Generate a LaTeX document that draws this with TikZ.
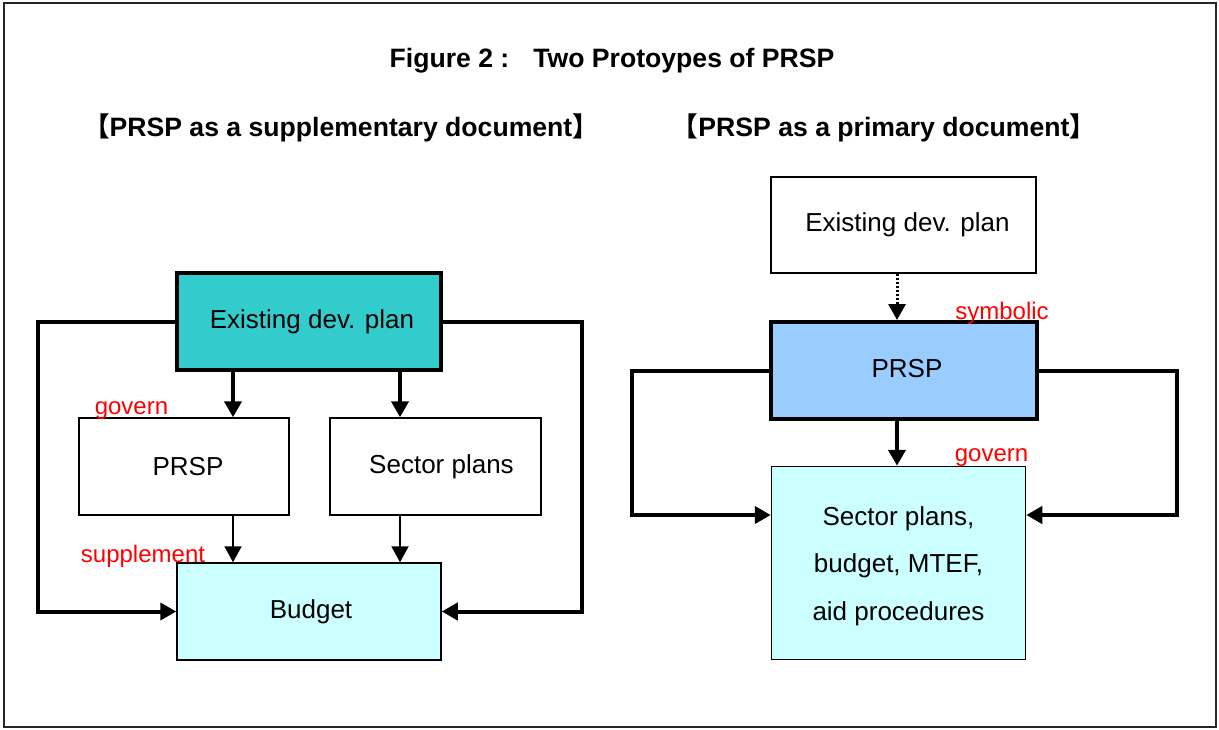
\documentclass[tikz,border=0pt]{standalone}
\usepackage{fontspec}
\setmainfont{Liberation Sans}
\newfontfamily\cjk{Noto Sans CJK SC}
\usetikzlibrary{arrows.meta}
\definecolor{tealfill}{HTML}{33CCCC}
\definecolor{cyanfill}{HTML}{CCFFFF}
\definecolor{bluefill}{HTML}{99CCFF}
\begin{document}
\begin{tikzpicture}[x=0.5pt,y=-0.5pt,
  box/.style={draw, line width=0.75pt, inner sep=0pt, align=center, font=\fontsize{13}{23.75}\selectfont},
  heavybox/.style={box, line width=2pt},
  thinarrow/.style={-{Triangle[length=8pt,width=8.5pt]}, line width=1pt},
  heavyarrow/.style={-{Triangle[length=8pt,width=8.5pt]}, line width=2pt},
  dotarrow/.style={-{Triangle[length=8pt,width=8.5pt]}, line width=1.5pt, dash pattern=on 1pt off 1pt},
  heavyline/.style={line width=2pt},
  lbl/.style={text=red, inner sep=0pt, font=\fontsize{12}{14}\selectfont},
  heading/.style={inner sep=0pt, font=\fontsize{13.3}{15}\selectfont\bfseries}]
\useasboundingbox (0,0) rectangle (1219,729);
\draw[line width=0.75pt, black!85] (4,3) rectangle (1216,727);

% headings
\node[heading] (title) at (612,61) {Figure 2 :\hspace{12pt}Two Protoypes of PRSP};
\node[heading] (subL) at (341,128) {{\cjk 【}PRSP as a supplementary document{\cjk 】}};
\node[heading] (subR) at (884,128) {{\cjk 【}PRSP as a primary document{\cjk 】}};

% left diagram
\node[heavybox, fill=tealfill, minimum width=132pt, minimum height=48.5pt] (exL) at (309,321.5) {\hspace*{3pt}Existing dev. plan};
\node[box, minimum width=105pt, minimum height=48.5pt] (prL) at (184,466.5) {\hspace*{4pt}PRSP};
\node[box, minimum width=105.5pt, minimum height=48.5pt] (seL) at (435.5,466.5) {\hspace*{6pt}Sector plans};
\node[box, fill=cyanfill, minimum width=132pt, minimum height=48.5pt] (buL) at (309,611.5) {\hspace*{2pt}Budget};

\coordinate (xa) at (233,0);
\coordinate (xb) at (400,0);
\coordinate (cL) at (38,0);
\coordinate (cR) at (582,0);

\draw[heavyarrow] (exL.south -| xa) -- (prL.north -| xa);
\draw[heavyarrow] (exL.south -| xb) -- (seL.north -| xb);
\draw[thinarrow] (prL.south -| xa) -- (buL.north -| xa);
\draw[thinarrow] (seL.south -| xb) -- (buL.north -| xb);
\draw[heavyarrow] (exL.west) -- (exL.west -| cL) |- (buL.west);
\draw[heavyarrow] (exL.east) -- (exL.east -| cR) |- (buL.east);

\node[lbl] (gL) at (131.5,411) {govern};
\node[lbl] (sL) at (143,556) {supplement};

% right diagram
\node[box, minimum width=132.5pt, minimum height=48pt] (exR) at (903.5,225) {\raisebox{2pt}{\hspace*{4pt}Existing dev. plan}};
\node[heavybox, fill=bluefill, minimum width=133pt, minimum height=48.5pt] (prR) at (904,370.5) {\raisebox{2pt}{\hspace*{3pt}PRSP}};
\node[box, fill=cyanfill, minimum width=127pt, minimum height=96.5pt] (seR) at (898.5,563) {\raisebox{1.5pt}{\begin{tabular}{@{}c@{}}Sector plans,\\ budget, MTEF,\\ aid procedures\end{tabular}}};

\coordinate (xr) at (897,0);
\coordinate (dL) at (632,0);
\coordinate (dR) at (1177,0);
\coordinate (yR) at (0,515);

\draw[dotarrow] (exR.south -| xr) -- (prR.north -| xr);
\draw[heavyarrow] (prR.south -| xr) -- (seR.north -| xr);
\draw[heavyarrow] (prR.west) -- (prR.west -| dL) -- (dL |- yR) -- (seR.west |- yR);
\draw[heavyarrow] (prR.east) -- (prR.east -| dR) -- (dR |- yR) -- (seR.east |- yR);

\node[lbl] (sym) at (1002,313) {symbolic};
\node[lbl] (gR) at (991.5,458) {govern};
\end{tikzpicture}
\end{document}
